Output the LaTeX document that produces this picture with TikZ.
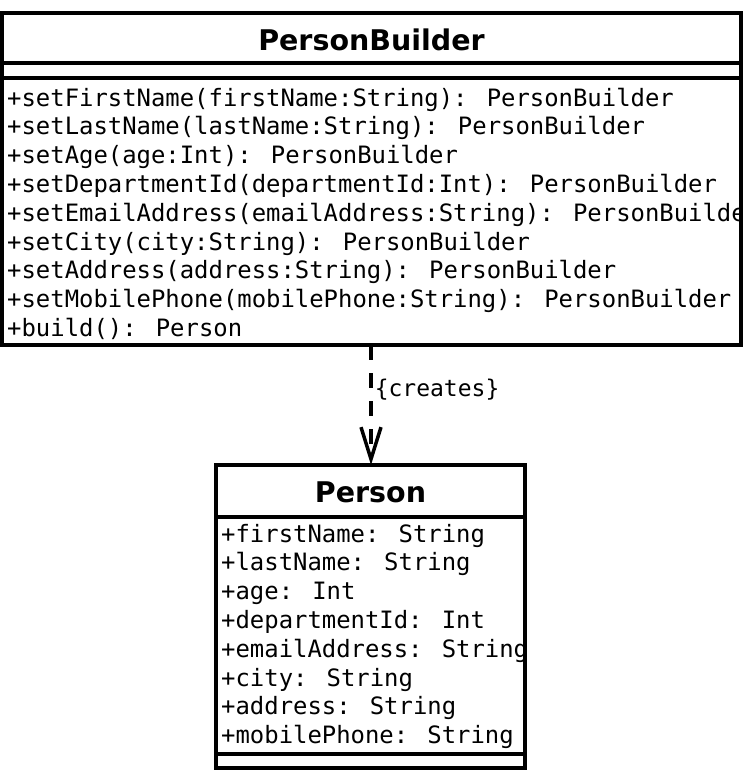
\documentclass[tikz,border=0pt]{standalone}
\usepackage{fontspec}
\setmainfont{DejaVu Sans}
\newfontfamily\umlmono{DejaVu Sans Mono}
\usetikzlibrary{arrows.meta}
\begin{document}
\begin{tikzpicture}[x=1pt,y=-1pt,
  box/.style={draw, line width=3.5pt, inner sep=0pt, outer sep=0pt},
  sep/.style={line width=3.5pt},
  member/.style={anchor=base west, inner sep=0pt, font=\umlmono\fontsize{23.9}{28.8}\selectfont},
  umltitle/.style={anchor=base, inner sep=0pt, font=\bfseries\fontsize{28.5}{30}\selectfont},
  dep/.style={line width=3.5pt, dash pattern=on 15pt off 13pt, -{Straight Barb[length=32pt,width=20pt,line width=3.5pt]}},
  deplabel/.style={anchor=west, inner sep=0pt, xshift=2pt, font=\umlmono\fontsize{23}{28}\selectfont}]
\useasboundingbox (0,0) rectangle (744,780);

% PersonBuilder class
\node[box, minimum width=739pt, minimum height=332pt] (builder) at (371.5,179) {};
\node[umltitle] (builderTitle) at (371.5,50) {PersonBuilder};
\draw[sep] (builder.west |- 0,63) -- (builder.east |- 0,63);
\draw[sep] (builder.west |- 0,78) -- (builder.east |- 0,78);
\begin{scope}
  \clip (builder.south west) rectangle ([xshift=-1.75pt]builder.north east);
  \node[member] (m1) at (7,106.0) {+setFirstName(firstName:String): PersonBuilder};
  \node[member] (m2) at (7,134.8) {+setLastName(lastName:String): PersonBuilder};
  \node[member] (m3) at (7,163.6) {+setAge(age:Int): PersonBuilder};
  \node[member] (m4) at (7,192.4) {+setDepartmentId(departmentId:Int): PersonBuilder};
  \node[member] (m5) at (7,221.2) {+setEmailAddress(emailAddress:String): PersonBuilder};
  \node[member] (m6) at (7,250.0) {+setCity(city:String): PersonBuilder};
  \node[member] (m7) at (7,278.8) {+setAddress(address:String): PersonBuilder};
  \node[member] (m8) at (7,307.6) {+setMobilePhone(mobilePhone:String): PersonBuilder};
  \node[member] (m9) at (7,336.4) {+build(): Person};
\end{scope}
\draw[box] (builder.south west) rectangle (builder.north east);

% Person class
\node[box, minimum width=309pt, minimum height=303pt] (person) at (370.5,616.5) {};
\node[umltitle] (personTitle) at (370.5,502) {Person};
\draw[sep] (person.west |- 0,517) -- (person.east |- 0,517);
\draw[sep] (person.west |- 0,754) -- (person.east |- 0,754);
\node[member] (a1) at (221,542.0) {+firstName: String};
\node[member] (a2) at (221,570.8) {+lastName: String};
\node[member] (a3) at (221,599.6) {+age: Int};
\node[member] (a4) at (221,628.4) {+departmentId: Int};
\node[member] (a5) at (221,657.2) {+emailAddress: String};
\node[member] (a6) at (221,686.0) {+city: String};
\node[member] (a7) at (221,714.8) {+address: String};
\node[member] (a8) at (221,743.6) {+mobilePhone: String};

% dependency
\coordinate (depStart) at (builder.south -| 371,0);
\coordinate (depEnd) at (person.north -| 371,0);
\draw[dep] (depStart) -- node[deplabel, pos=0.375] (creates) {\{creates\}} (depEnd);
\end{tikzpicture}
\end{document}
